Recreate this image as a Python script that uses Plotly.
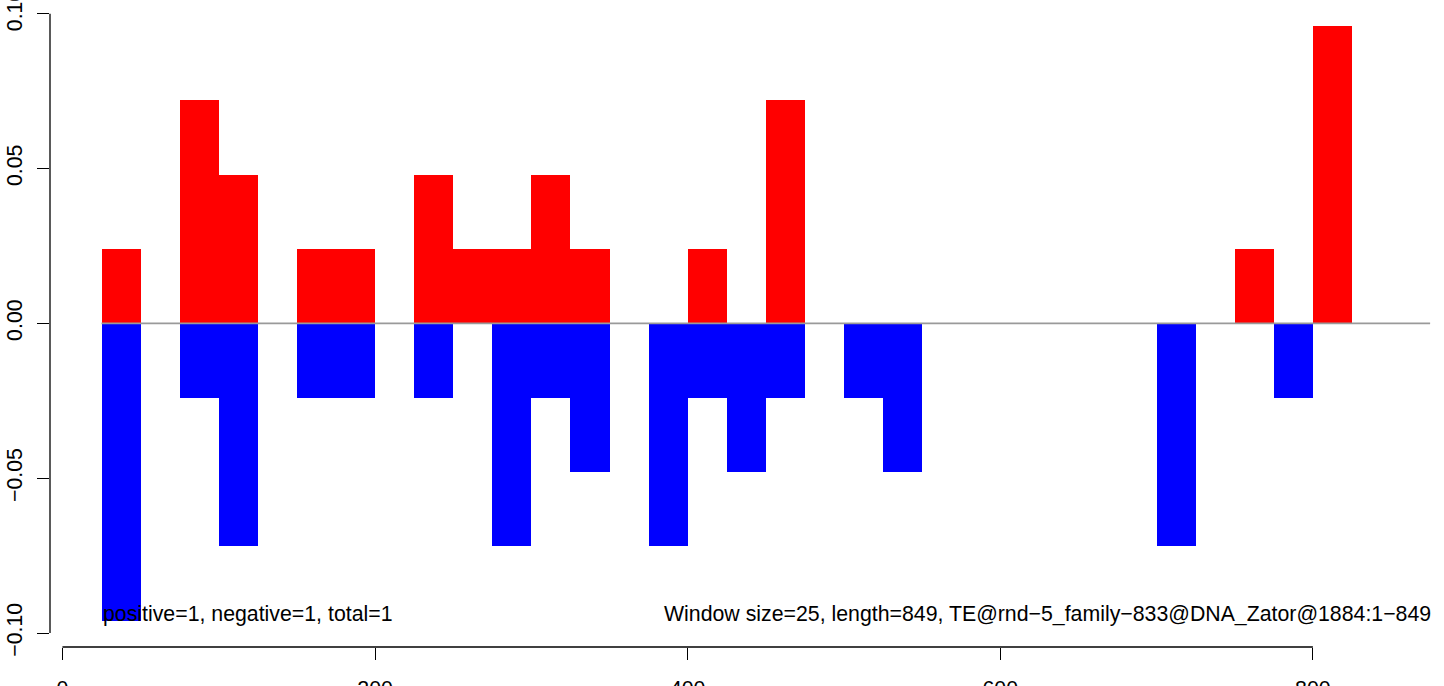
import plotly.graph_objects as go

# ---- data ----
WINDOW = 25
window_start = [0, 25, 50, 75, 100, 125, 150, 175, 200, 225, 250, 275, 300, 325,
                350, 375, 400, 425, 450, 475, 500, 525, 550, 575, 600, 625, 650,
                675, 700, 725, 750, 775, 800, 825]
positive = [0, 0.024, 0, 0.072, 0.048, 0, 0.024, 0.024, 0, 0.048, 0.024, 0.024,
            0.048, 0.024, 0, 0, 0.024, 0, 0.072, 0, 0, 0, 0, 0, 0, 0, 0,
            0, 0, 0, 0.024, 0, 0.096, 0]
negative = [0, -0.096, 0, -0.024, -0.072, 0, -0.024, -0.024, 0, -0.024, 0, -0.072,
            -0.024, -0.048, 0, -0.072, -0.024, -0.048, -0.024, 0, -0.024, -0.048, 0, 0, 0, 0, 0,
            0, -0.072, 0, 0, -0.024, 0, 0]
x_ticks = [0, 200, 400, 600, 800]
y_ticks = [-0.10, -0.05, 0.00, 0.05, 0.10]
y_tick_text = ["\u22120.10", "\u22120.05", "0.00", "0.05", "0.10"]
seq_start = 25
seq_end = 875
left_note = "positive=1, negative=1, total=1"
right_note = "Window size=25, length=849, TE@rnd\u22125_family\u2212833@DNA_Zator@1884:1\u2212849"

centers = [s + WINDOW / 2 for s in window_start]
FONT = "Liberation Sans, Arial, Helvetica, sans-serif"
FS = 21.3

fig = go.Figure()
fig.add_trace(go.Scatter(x=[seq_start, seq_end], y=[0, 0], mode="lines",
                         line=dict(color="#9a9a9a", width=1.6), hoverinfo="skip",
                         showlegend=False))
fig.add_trace(go.Bar(x=centers, y=positive, width=WINDOW, marker=dict(color="#FF0000", line=dict(width=0)),
                     showlegend=False))
fig.add_trace(go.Bar(x=centers, y=negative, width=WINDOW, marker=dict(color="#0000FF", line=dict(width=0)),
                     showlegend=False))

# R-style axis lines spanning only the tick range
fig.add_shape(type="line", xref="paper", yref="y", x0=0, x1=0, y0=y_ticks[0], y1=y_ticks[-1],
              line=dict(color="black", width=1.3))
fig.add_shape(type="line", xref="x", yref="paper", x0=x_ticks[0], x1=x_ticks[-1], y0=0, y1=0,
              line=dict(color="black", width=1.3))

fig.add_annotation(x=seq_start, y=-0.0938, xref="x", yref="y", text=left_note, showarrow=False,
                   xanchor="left", yanchor="middle", xshift=-1,
                   font=dict(family=FONT, size=FS, color="black"))
fig.add_annotation(x=seq_end, y=-0.0938, xref="x", yref="y", text=right_note, showarrow=False,
                   xanchor="right", yanchor="middle", xshift=3,
                   font=dict(family=FONT, size=FS, color="black"))

fig.update_layout(
    width=1444, height=686,
    margin=dict(l=50, r=3, t=0, b=39),
    paper_bgcolor="white", plot_bgcolor="white",
    barmode="overlay", bargap=0,
    font=dict(family=FONT, size=FS, color="black"),
    xaxis=dict(range=[-7.96, 881.96], showgrid=False, zeroline=False, showline=False,
               automargin=False, ticklabeloverflow="allow",
               tickvals=x_ticks, ticktext=[str(v) for v in x_ticks], ticks="outside", ticklen=12,
               tickwidth=1.3, tickcolor="black", ticklabelstandoff=10,
               tickfont=dict(family=FONT, size=FS)),
    yaxis=dict(range=[-0.1045, 0.1044], showgrid=False, zeroline=False, showline=False,
               automargin=False, ticklabeloverflow="allow",
               tickvals=y_ticks, ticktext=y_tick_text, ticks="outside", ticklen=12,
               tickwidth=1.3, tickcolor="black", tickangle=-90, ticklabelstandoff=6,
               tickfont=dict(family=FONT, size=FS)),
)

fig.write_html("out.html", config={"displayModeBar": False},
               post_script="document.body.style.margin='0';document.body.style.overflow='hidden';")
